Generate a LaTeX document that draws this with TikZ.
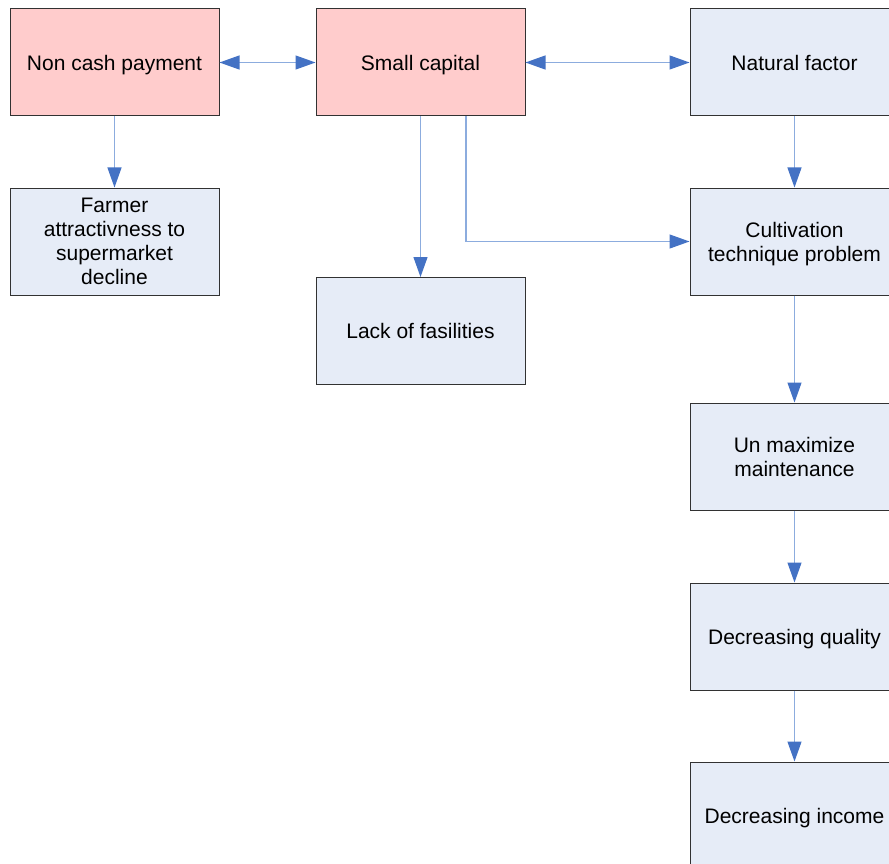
\documentclass[tikz,border=0pt]{standalone}
\usepackage{fontspec}
\setmainfont{Liberation Sans}
\usetikzlibrary{arrows.meta,calc}
\definecolor{pinkfill}{RGB}{255,204,204}
\definecolor{bluefill}{RGB}{230,236,247}
\definecolor{linkline}{RGB}{140,172,222}
\definecolor{linkhead}{RGB}{68,114,196}
\definecolor{boxline}{RGB}{50,50,50}
\tikzset{
  box/.style={draw=boxline, line width=1pt, minimum width=209pt, minimum height=107pt,
    inner sep=0pt, align=center, text depth=0pt, font=\fontsize{21}{24}\selectfont},
  hot/.style={box, fill=pinkfill},
  cool/.style={box, fill=bluefill},
  link/.style={draw=linkline, line width=1.2pt,
    -{Triangle[length=20pt,width=14pt,color=linkhead]}},
  duallink/.style={draw=linkline, line width=1.2pt,
    {Triangle[length=20pt,width=14pt,color=linkhead]}-{Triangle[length=20pt,width=14pt,color=linkhead]}}
}
\begin{document}
\begin{tikzpicture}[x=1pt,y=-1pt]
\clip (0,0) rectangle (889,864);
\fill[white] (0,0) rectangle (889,864);

% top row
\node[hot]  (nc)   at (114.5,62.5)  {Non cash payment};
\node[hot]  (sc)   at (420.5,62.5)  {Small capital};
\node[cool] (nf)   at (794.5,62.5)  {Natural factor};

% second row
\node[cool] (farm) at (114.5,241.5) {Farmer\\attractivness to\\supermarket\\decline};
\node[cool] (lack) at (420.5,331)   {Lack of fasilities};
\node[cool] (cult) at (794.5,241.5) {Cultivation\\technique problem};

% right-hand chain
\node[cool] (unmx) at (794.5,456.5) {Un maximize\\maintenance};
\node[cool] (decq) at (794.5,636.5) {Decreasing quality};
\node[cool] (deci) at (794.5,815.5) {Decreasing income};

% connectors
\draw[duallink] (nc.east) -- (sc.west);
\draw[duallink] (sc.east) -- (nf.west);
\draw[link] (nc.south) -- (farm.north);
\draw[link] (sc.south) -- (lack.north);
\draw[link] ($(sc.south)+(45.5,0)$) |- (cult.west);
\draw[link] (nf.south) -- (cult.north);
\draw[link] (cult.south) -- (unmx.north);
\draw[link] (unmx.south) -- (decq.north);
\draw[link] (decq.south) -- (deci.north);
\end{tikzpicture}
\end{document}
